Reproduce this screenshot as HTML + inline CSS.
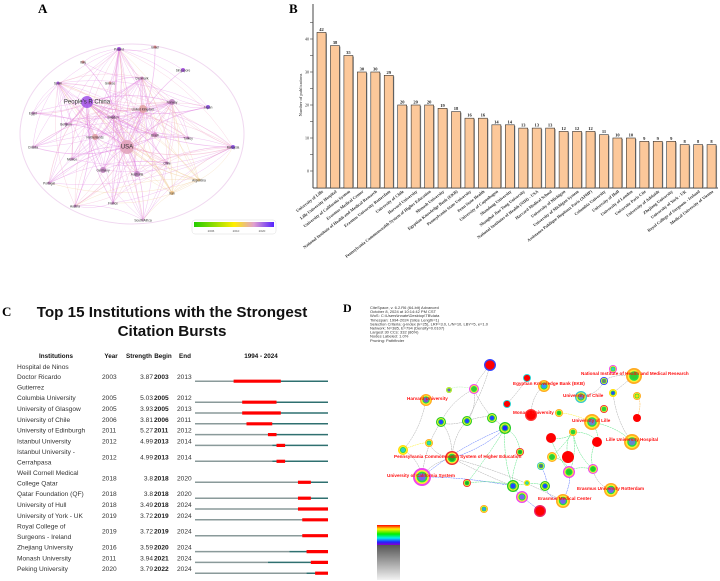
<!DOCTYPE html>
<html><head><meta charset="utf-8">
<style>
html,body{margin:0;padding:0;background:#fff;width:720px;height:581px;overflow:hidden;font-family:"Liberation Sans",sans-serif;}
svg{position:absolute;left:0;top:0;}
</style></head>
<body>
<svg id="fig" width="720" height="581" viewBox="0 0 720 581" xmlns="http://www.w3.org/2000/svg">
<defs>
<linearGradient id="gA" x1="0" x2="1"><stop offset="0" stop-color="#22cc00"/><stop offset="0.5" stop-color="#ffee00"/><stop offset="0.75" stop-color="#e0a0d0"/><stop offset="1" stop-color="#5522ff"/></linearGradient>
<linearGradient id="gD1" x1="0" x2="0" y1="0" y2="1"><stop offset="0" stop-color="#ff0000"/><stop offset="0.2" stop-color="#ffee00"/><stop offset="0.45" stop-color="#00ee00"/><stop offset="0.65" stop-color="#00eeee"/><stop offset="0.85" stop-color="#2222ff"/><stop offset="1" stop-color="#8800cc"/></linearGradient>
<linearGradient id="gD2" x1="0" x2="0" y1="0" y2="1"><stop offset="0" stop-color="#555"/><stop offset="1" stop-color="#f2f2f2"/></linearGradient>
</defs>
<g id="panelA"></g>
<g id="panelB"></g>
<g id="panelC"></g>
<g id="panelD"></g>
</svg>
<script>
// ---------- Panel B data ----------
const instNames = ["University of Lille","Lille University Hospital","University of California System","Erasmus Medical Center","National Institute of Health and Medical Research","Erasmus University Rotterdam","University of Chile","Harvard University","Pennsylvania Commonwealth System of Higher Education","Monash University","Egyptian Knowledge Bank (EKB)","Pennsylvania State University","Penn State Health","University of Copenhagen","Shandong University","Shanghai Jiao Tong University","National Institutes of Health (NIH) - USA","Harvard Medical School","University of Michigan","University of Michigan System","Assistance Publique Hopitaux Paris (APHP)","Columbia University","University of Hull","University of London","Universite Paris Cite","University of Adelaide","Zhejiang University","University of York - UK","Royal College of Surgeons - Ireland","Medical University of Vienna"];
const pubCounts = [42,38,35,30,30,29,20,20,20,19,18,16,16,14,14,13,13,13,12,12,12,11,10,10,9,9,9,8,8,8];
const yTicks = [0,10,20,30,40];

// ---------- Panel C data ----------
const burstInst = [["Hospital de Ninos","Doctor Ricardo","Gutierrez"],["Columbia University"],["University of Glasgow"],["University of Chile"],["University of Edinburgh"],["Istanbul University"],["Istanbul University -","Cerrahpasa"],["Weill Cornell Medical","College Qatar"],["Qatar Foundation (QF)"],["University of Hull"],["University of York - UK"],["Royal College of","Surgeons - Ireland"],["Zhejiang University"],["Monash University"],["Peking University"]];
const burstYear = [2003,2005,2005,2006,2011,2012,2012,2018,2018,2018,2019,2019,2016,2011,2020];
const burstStrength = [3.87,5.03,3.93,3.81,5.27,4.99,4.99,3.8,3.8,3.49,3.72,3.72,3.59,3.94,3.79];
const burstBegin = [2003,2005,2005,2006,2011,2013,2013,2018,2018,2018,2019,2019,2020,2021,2022];
const burstEnd = [2013,2012,2013,2011,2012,2014,2014,2020,2020,2024,2024,2024,2024,2024,2024];

const NS="http://www.w3.org/2000/svg";
function mk(tag,attrs,parent,text){const e=document.createElementNS(NS,tag);for(const k in attrs)e.setAttribute(k,attrs[k]);if(text!==undefined)e.textContent=text;parent.appendChild(e);return e;}

// ================= Panel A =================
(function(){
const g=document.getElementById('panelA');
let t=mk('text',{x:38,y:13,'font-family':'Liberation Serif','font-weight':'bold','font-size':13},g,'A');


const nodes=[["Poland",119,49,2,"#a040e0"],["Israel",155,47,1.5,"#e08080"],["Singapore",183,70,2,"#a040e0"],["Denmark",142,78,1.5,"#d080c0"],["Greece",110,83,1.5,"#e09090"],["Italy",83,62,1.5,"#e09090"],["Spain",58,83,1.5,"#a040e0"],["People's R China",87,102,6,"#a050e8"],["United Kingdom",143,109,4,"#e0a0a0"],["Norway",172,102,3,"#c080c0"],["Japan",208,107,2,"#8040e0"],["Egypt",33,113,1.5,"#c080c0"],["Sweden",113,117,2,"#c080c0"],["Belgium",66,124,1.5,"#c080c0"],["Netherlands",95,137,3,"#e0a0a0"],["USA",127,147,7,"#e0a0b8"],["Brazil",155,135,2.5,"#d080c0"],["Turkey",188,138,1.5,"#c080c0"],["Malaysia",233,147,2,"#8040e0"],["Croatia",33,147,1.5,"#c0a0c0"],["Mexico",72,159,1.5,"#c080c0"],["Chile",167,163,1.5,"#c080c0"],["Germany",103,170,3,"#c080c0"],["Australia",137,174,3,"#c080c0"],["Argentina",199,180,1.5,"#e0c080"],["Iran",172,193,2,"#f0c080"],["Portugal",49,183,1.5,"#c080c0"],["Austria",75,206,1.5,"#c080c0"],["France",113,203,1.5,"#c080c0"],["South Africa",143,220,1.5,"#c0a0c0"]];
const eg=mk('g',{},g);


mk('ellipse',{cx:132,cy:134,rx:112,ry:90,fill:'none',stroke:'#f0d8f0','stroke-width':1},eg);
for(let i=0;i<nodes.length;i++){for(let j=i+1;j<nodes.length;j++){
 if((i*7+j*3)%3===0||i===7||i===15||j===15||i===8){
  const a=nodes[i],b=nodes[j];
  const dx=b[1]-a[1],dy=b[2]-a[2];const s=((i+j)%2?0.15:-0.15);
  const mx=(a[1]+b[1])/2-dy*s,my=(a[2]+b[2])/2+dx*s;
  const orange=(a[0]==="Iran"||b[0]==="Iran"||a[0]==="Argentina"||b[0]==="Argentina");
  mk('path',{d:`M${a[1]},${a[2]} Q${mx},${my} ${b[1]},${b[2]}`,fill:'none',stroke:orange?'#f0c890':((i+j)%3?'#e080e0':'#f0a0c0'),'stroke-width':(i===7||i===15||j===15)?0.7:0.45,'stroke-opacity':0.5},eg);
 }}}
nodes.forEach(n=>{
 const c=mk('circle',{cx:n[1],cy:n[2],r:n[3],fill:n[4],'fill-opacity':0.85},g);
 
 
 const tx=mk('text',{x:n[1],y:n[2]+1.5,'font-size':n[3]>5?6:3.2,'text-anchor':'middle',fill:'#333'},g,n[0]);
 
 
});
const lg=mk('g',{},g);


mk('rect',{x:192,y:220,width:84,height:14,rx:3,fill:'#fff',stroke:'#ddd','stroke-width':0.5},lg);
mk('rect',{x:194,y:222,width:80,height:5,fill:'url(#gA)'},lg);
[["2006",211],["2010",236],["2020",262]].forEach(l=>mk('text',{x:l[1],y:232,'font-size':3,'text-anchor':'middle',fill:'#555'},lg,l[0]));
})();

// ================= Panel B =================
(function(){
const g=document.getElementById('panelB');
const x0=317,step=13.45,bw=9,zeroY=171,base=188;
const yS=v=>zeroY-3.3*v;
const xS=i=>x0+i*step;
let t=mk('text',{x:289,y:13,'font-family':'Liberation Serif','font-weight':'bold','font-size':13},g,'B');


const ax=mk('line',{x1:313,y1:4,x2:313,y2:base,stroke:'#444','stroke-width':1},g);


const bx=mk('line',{x1:313,y1:base,x2:718,y2:base,stroke:'#444','stroke-width':1},g);


for(let v=0;v<=45;v+=5){mk('line',{x1:310,y1:yS(v),x2:313,y2:yS(v),stroke:'#444','stroke-width':0.6},g);}
yTicks.forEach(v=>{const tt=mk('text',{x:309,y:yS(v)+1.5,'font-size':4,'text-anchor':'end','font-family':'Liberation Serif',fill:'#222'},g,String(v));
 
 });
const yt=mk('text',{x:302,y:95,'font-size':4.5,'text-anchor':'middle','font-family':'Liberation Serif',transform:'rotate(-90 302 95)',fill:'#222'},g,'Number of publications');


pubCounts.forEach((v,i)=>{
 const x=xS(i);
 mk('rect',{x:x+1,y:yS(v)+1,width:bw,height:base-yS(v)-1,fill:'#999'},g);
 const r=mk('rect',{x:x,y:yS(v),width:bw,height:base-yS(v),fill:'#fcc89a',stroke:'#333','stroke-width':0.6},g);
 
 
 const vl=mk('text',{x:x+bw/2,y:yS(v)-1.5,'font-size':4.5,'text-anchor':'middle','font-family':'Liberation Serif','font-weight':'bold',fill:'#222'},g,String(v));
 
 
 const cx=x+bw/2+2,cy=base+4;
 const xl=mk('text',{x:cx,y:cy,'font-size':4.3,'text-anchor':'end','font-family':'Liberation Serif','font-weight':'bold',fill:'#333',transform:`rotate(-38 ${cx} ${cy})`},g,instNames[i]);
 
 
});
})();

// ================= Panel C =================
(function(){
const g=document.getElementById('panelC');
let t=mk('text',{x:2,y:316,'font-family':'Liberation Serif','font-weight':'bold','font-size':13},g,'C');


const t1=mk('text',{x:172,y:317,'font-size':15.2,'font-weight':'bold','text-anchor':'middle',fill:'#111'},g,'Top 15 Institutions with the Strongest');


mk('text',{x:172,y:336,'font-size':15.2,'font-weight':'bold','text-anchor':'middle',fill:'#111'},g,'Citation Bursts');
const hy=358;
[["Institutions",56,'middle'],["Year",111,'middle'],["Strength",139,'middle'],["Begin",163,'middle'],["End",185,'middle'],["1994 - 2024",261,'middle']].forEach(h=>{
 const e=mk('text',{x:h[1],y:hy,'font-size':6.3,'font-weight':'bold','text-anchor':h[2],fill:'#111'},g,h[0]);
 
 
});
const bx0=195,bx1=328,py=(bx1-bx0)/31;
const xY=y=>bx0+(y-1994)*py;
let y=369;
burstInst.forEach((lines,i)=>{
 const n=lines.length, lh=10.2;
 const mid=y+(n-1)*lh/2;
 const row=mk('g',{},g);
 
 
 lines.forEach((l,k)=>mk('text',{x:17,y:y+k*lh,'font-size':6.6,fill:'#333'},row,l));
 mk('text',{x:102,y:mid,'font-size':6.6,fill:'#333'},row,String(burstYear[i]));
 mk('text',{x:153,y:mid,'font-size':6.6,'text-anchor':'end',fill:'#333'},row,String(burstStrength[i]));
 mk('text',{x:154,y:mid,'font-size':6.6,'font-weight':'bold',fill:'#222'},row,String(burstBegin[i]));
 mk('text',{x:177,y:mid,'font-size':6.6,fill:'#333'},row,String(burstEnd[i]));
 const ly=mid+2;
 mk('line',{x1:bx0,y1:ly,x2:xY(burstYear[i]),y2:ly,stroke:'#8a9a9a','stroke-width':1.5},row);
 mk('line',{x1:xY(burstYear[i]),y1:ly,x2:bx1,y2:ly,stroke:'#2f7070','stroke-width':1.5},row);
 const rb=mk('line',{x1:xY(burstBegin[i]),y1:ly,x2:xY(burstEnd[i]+1),y2:ly,stroke:'#ff0000','stroke-width':3.2},row);
 
 
 y+=n*lh+0.6;
});
})();

// ================= Panel D =================
(function(){
const g=document.getElementById('panelD');
let t=mk('text',{x:343,y:312,'font-family':'Liberation Serif','font-weight':'bold','font-size':12},g,'D');


const info=["CiteSpace, v. 6.2.R6 (64-bit) Advanced","October 8, 2024 at 10:14:42 PM CST","WoS: C:\\Users\\innate\\Desktop\\TB\\data","Timespan: 1994-2024 (Slice Length=1)","Selection Criteria: g-index (k=25), LRF=3.0, L/N=10, LBY=5, e=1.0","Network: N=385, E=794 (Density=0.0107)","Largest 30 CCs: 332 (86%)","Nodes Labeled: 1.0%","Pruning: Pathfinder"];
const ig=mk('g',{},g);


info.forEach((l,i)=>mk('text',{x:370,y:309+i*4.1,'font-size':4,fill:'#333'},ig,l));
const N=[[490,365,6,'#f00','#3344ff'],[527,378,4,'#f00','#22dddd'],[544,386,6,'#3399ff','#ffaa22'],[507,404,4,'#f00','#22dddd'],[531,415,6,'#f00','#f33'],[559,413,4,'#22cc22','#ffaa22'],[449,390,3,'#7755cc','#99dd22'],[474,389,5,'#33cc33','#ee44ee'],[426,400,6,'#7755cc','#ffaa22'],[441,422,5,'#2244ff','#22cc22'],[467,421,5,'#2244ff','#22cc22'],[492,418,5,'#2244ff','#22cc22'],[505,428,6,'#2222ff','#22cc22'],[429,443,4,'#33cccc','#ffaa22'],[403,450,5,'#33cccc','#ffdd00'],[452,458,7,'#22aa22','#ee3333'],[520,452,4,'#22aa22','#ee3333'],[422,477,9,'#7766ee','#ee44ee'],[467,483,4,'#22aa22','#ee3333'],[513,486,6,'#2244ff','#22cc22'],[527,483,3,'#33cccc','#ffdd00'],[545,486,5,'#2244ff','#22cc22'],[541,466,4,'#556699','#33cccc'],[522,497,6,'#7766ee','#ee44ee'],[540,511,6,'#f00','#ee2266'],[484,509,4,'#3399ff','#ffaa22'],[551,438,5,'#f00','#f00'],[568,457,6,'#f00','#f00'],[552,457,5,'#33cc33','#ffaa22'],[573,432,4,'#33cc33','#ffaa22'],[569,472,6,'#22cc22','#ee44ee'],[593,469,5,'#22cc22','#ee44ee'],[597,442,5,'#f00','#f00'],[563,501,7,'#7766ee','#ffaa22'],[611,490,7,'#7766ee','#ffaa22'],[592,422,8,'#6688cc','#ffaa22'],[581,397,6,'#6688cc','#33cccc'],[604,381,4,'#777','#2244ff'],[613,369,4,'#33cccc','#ee44ee'],[634,376,8,'#33cc33','#ffaa22'],[613,393,4,'#2244ff','#ffdd00'],[604,409,4,'#33cc33','#ee3333'],[637,396,4,'#ffdd00','#ffaa22'],[637,418,4,'#f00','#f00'],[632,442,8,'#6688cc','#ffaa22']];
const E=[[0,7,'#999'],[0,10,'#999'],[7,9,'#999'],[7,10,'#999'],[7,11,'#999'],[9,15,'#999'],[9,10,'#999'],[10,11,'#999'],[11,12,'#999'],[12,15,'#3355ff'],[12,17,'#3355ff'],[12,18,'#33dd66'],[12,19,'#33dd66'],[12,16,'#33dd66'],[15,17,'#999'],[15,19,'#999'],[17,19,'#3355ff'],[18,19,'#33dd66'],[16,19,'#33dd66'],[19,21,'#33dd66'],[19,23,'#3355ff'],[22,21,'#3355ff'],[23,24,'#3355ff'],[13,14,'#ffee00'],[13,15,'#999'],[1,3,'#999'],[2,4,'#999'],[26,29,'#33dd66'],[27,29,'#33dd66'],[28,29,'#33dd66'],[29,31,'#33dd66'],[28,30,'#33dd66'],[30,31,'#33dd66'],[29,30,'#33dd66'],[26,30,'#33dd66'],[30,33,'#3355ff'],[31,34,'#999'],[35,44,'#33dd66'],[35,5,'#ffee00'],[36,37,'#999'],[37,39,'#999'],[39,40,'#999'],[40,44,'#999'],[42,43,'#ffaa22'],[6,7,'#aaeeaa'],[8,14,'#999'],[9,17,'#999'],[15,33,'#999'],[21,33,'#3355ff'],[29,32,'#33dd66'],[32,31,'#33dd66'],[35,32,'#33dd66'],[10,15,'#999'],[17,14,'#999']];
const eg=mk('g',{},g);


E.forEach((e,k)=>{const a=N[e[0]],b=N[e[1]];const mx=(a[0]+b[0])/2+(k%2?6:-6),my=(a[1]+b[1])/2+(k%3?-5:5);
 mk('path',{d:`M${a[0]},${a[1]} Q${mx},${my} ${b[0]},${b[1]}`,fill:'none',stroke:e[2],'stroke-width':0.5,'stroke-dasharray':'2 0.6','stroke-opacity':0.85},eg);});
N.forEach(n=>{
 const ng=mk('g',{},g);
 
 
 mk('circle',{cx:n[0],cy:n[1],r:n[2],fill:n[4]},ng);
 mk('circle',{cx:n[0],cy:n[1],r:n[2]*0.78,fill:n[3]==='#f00'?'#f00':'#ffee33'},ng);
 mk('circle',{cx:n[0],cy:n[1],r:n[2]*0.6,fill:n[3]==='#f00'?'#f00':'#22dd44'},ng);
 mk('circle',{cx:n[0],cy:n[1],r:n[2]*0.42,fill:n[3]},ng);
});
const labels=[["National Institute of Health and Medical Research",581,375],["Egyptian Knowledge Bank (EKB)",513,385],["University of Chile",563,397],["Harvard University",407,400],["Monash University",513,414],["University of Lille",572,422],["Lille University Hospital",606,441],["Pennsylvania Commonwealth System of Higher Education",394,458],["University of California System",387,477],["Erasmus University Rotterdam",577,490],["Erasmus Medical Center",538,500]];
labels.forEach(l=>{const e=mk('text',{x:l[1],y:l[2],'font-size':4.6,'font-weight':'bold',fill:'#ff1010'},g,l[0]);
 
 });
const lg=mk('g',{},g);


mk('rect',{x:377,y:525,width:23,height:20,fill:'url(#gD1)'},lg);
mk('rect',{x:377,y:545,width:23,height:35,fill:'url(#gD2)'},lg);
})();
</script>
</body></html>
